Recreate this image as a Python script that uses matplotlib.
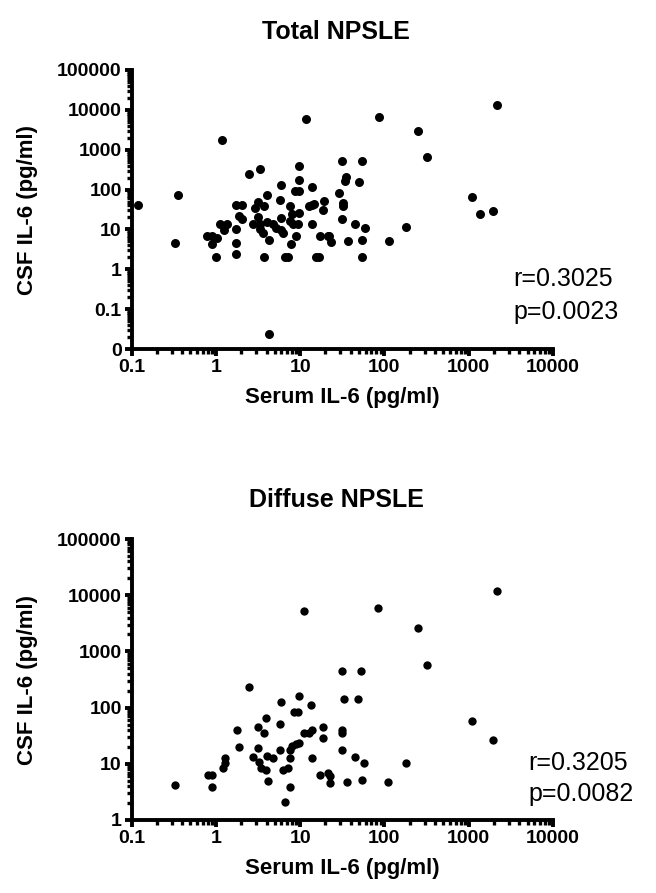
import matplotlib
matplotlib.use("Agg")
import matplotlib.pyplot as plt
from matplotlib.ticker import LogLocator, FixedLocator, FixedFormatter, NullFormatter

plt.rcParams["font.family"] = ["Liberation Sans", "DejaVu Sans"]

# Total NPSLE: serum vs CSF IL-6 (pg/ml)
total_serum = [0.12, 0.33, 0.36, 0.79, 0.90, 0.90, 1.0, 1.02, 1.11, 1.2, 1.25, 1.35,
               1.72, 1.72, 1.72, 1.75, 2.07, 1.9, 2.07, 2.48, 3.38, 2.9, 3.16, 2.76,
               3.16, 3.3, 3.38, 3.6, 3.7, 3.7, 4.04, 4.1, 4.3, 4.3, 4.8, 5.2, 6.0,
               5.7, 6.0, 6.0, 6.3, 6.7, 7.1, 7.5, 7.5, 7.7, 8.1, 8.2, 9.0, 8.6, 9.7,
               9.7, 9.7, 9.7, 9.5, 11.6, 12.7, 13.7, 14, 14, 14.5, 15.5, 16.7, 17,
               18.6, 19, 21.3, 23.4, 22, 29.3, 31.5, 32, 32, 31.5, 34.5, 35, 37, 45,
               49.7, 53.6, 54, 54, 59.6, 112, 87, 248, 320, 2190, 1100, 1370, 1950, 178]
total_csf = [40, 4.5, 72, 6.8, 6.8, 4.2, 2.07, 6, 14, 1780, 9.6, 14,
             10.4, 4.6, 2.4, 42, 42, 21.5, 18.5, 251, 329, 35, 48, 14,
             20.7, 14, 10, 8.3, 38, 2.07, 71, 15.3, 5.4, 0.024, 14, 11, 133,
             56, 19.5, 9.6, 8.3, 2.07, 2.07, 38, 16, 4.2, 23.7, 14, 6.8, 91, 91,
             383, 171, 26, 14, 5850, 38, 117, 42, 13.5, 44, 2.07, 2.07, 6.9,
             31.6, 52, 6.9, 4.7, 6.8, 83, 510, 46, 38, 18.8, 161, 207, 5.1, 14,
             152, 510, 5.4, 2.07, 10.7, 5.1, 6600, 2880, 645, 13300, 65, 25, 29, 11.2]

# Diffuse NPSLE
diffuse_serum = [0.33, 0.81, 0.91, 0.9, 1.22, 1.27, 1.3, 1.79, 1.87, 2.48, 2.77, 3.14,
                 3.2, 3.23, 3.4, 3.7, 3.9, 3.9, 4.1, 4.2, 4.74, 5.7, 5.8, 5.95, 6.3,
                 6.7, 7.2, 7.5, 7.5, 7.6, 8.0, 8.4, 8.9, 9.4, 9.6, 9.6, 11, 11.2,
                 12.6, 13.4, 13.7, 14, 17, 18.7, 18.7, 21.2, 22.8, 22.8, 31.5, 31.5,
                 31.5, 31.5, 33.2, 36, 44.9, 48.5, 53, 53.6, 56.9, 85, 111,
                 248, 320, 2190, 1100, 1950, 178]
diffuse_csf = [4.2, 6.3, 6.3, 3.8, 8.3, 10.2, 12.5, 40, 20, 237, 13, 18.8,
               44.6, 10.9, 8.3, 35.8, 7.7, 66, 13.9, 4.9, 12.5, 52, 17.6, 128, 7.7,
               2.1, 8.3, 17.6, 3.8, 12.5, 20.7, 85, 22.5, 85, 23.5, 161, 34.8, 5340,
               34.8, 111, 12.5, 40, 6.3, 44.6, 28.4, 7, 6, 4.5, 450, 40,
               35.8, 17.6, 141, 4.8, 13, 141, 450, 5.1, 10.4, 5900, 4.8,
               2590, 574, 12000, 58, 26, 10.4]

x_ticks = [0.1, 1, 10, 100, 1000, 10000]
x_ticklabels = ["0.1", "1", "10", "100", "1000", "10000"]
top_yticks = [0.01, 0.1, 1, 10, 100, 1000, 10000, 100000]
top_yticklabels = ["0", "0.1", "1", "10", "100", "1000", "10000", "100000"]
bot_yticks = [1, 10, 100, 1000, 10000, 100000]
bot_yticklabels = ["1", "10", "100", "1000", "10000", "100000"]

W, H = 656, 893
fig = plt.figure(figsize=(W / 100, H / 100), dpi=100)


def style_axis(ax, yticks, yticklabels, ylim):
    ax.set_xscale("log")
    ax.set_yscale("log")
    ax.set_xlim(0.1, 10000)
    ax.set_ylim(*ylim)
    ax.xaxis.set_major_locator(FixedLocator(x_ticks))
    ax.xaxis.set_major_formatter(FixedFormatter(x_ticklabels))
    ax.yaxis.set_major_locator(FixedLocator(yticks))
    ax.yaxis.set_major_formatter(FixedFormatter(yticklabels))
    ax.xaxis.set_minor_locator(LogLocator(base=10, subs=range(2, 10), numticks=20))
    ax.yaxis.set_minor_locator(LogLocator(base=10, subs=range(2, 10), numticks=20))
    ax.xaxis.set_minor_formatter(NullFormatter())
    ax.yaxis.set_minor_formatter(NullFormatter())
    for s in ["top", "right"]:
        ax.spines[s].set_visible(False)
    for s in ["left", "bottom"]:
        ax.spines[s].set_linewidth(2.8)
    ax.tick_params(which="major", length=5, width=2.8, labelsize=14, pad=2)
    ax.tick_params(which="minor", length=3.5, width=2.4)
    for lab in ax.get_xticklabels() + ax.get_yticklabels():
        lab.set_fontweight("bold")
    ax.set_xlabel("Serum IL-6 (pg/ml)", fontsize=16, fontweight="bold", labelpad=8)


left = 131.5 / W
width = (553 - 131.5) / W

ax1 = fig.add_axes([left, 1 - 349 / H, width, (349 - 70) / H])
ax1.scatter(total_serum, total_csf, s=42, color="black", linewidths=0,
            zorder=3, clip_on=False)
style_axis(ax1, top_yticks, top_yticklabels, (0.01, 100000))

ax2 = fig.add_axes([left, 1 - 820 / H, width, (820 - 539) / H])
ax2.scatter(diffuse_serum, diffuse_csf, s=36, color="black", linewidths=0,
            zorder=3, clip_on=False)
style_axis(ax2, bot_yticks, bot_yticklabels, (1, 100000))

fig.text(336 / W, 1 - 32 / H, "Total NPSLE", ha="center", va="center",
         fontsize=18, fontweight="bold")
fig.text(336 / W, 1 - 500 / H, "Diffuse NPSLE", ha="center", va="center",
         fontsize=18, fontweight="bold")

fig.text(28 / W, 1 - 210 / H, "CSF IL-6 (pg/ml)", rotation=90, ha="center",
         va="center", fontsize=16, fontweight="bold")
fig.text(28 / W, 1 - 680 / H, "CSF IL-6 (pg/ml)", rotation=90, ha="center",
         va="center", fontsize=16, fontweight="bold")

fig.text(513 / W, 1 - 279 / H, "r=0.3025", ha="left", va="center", fontsize=18)
fig.text(513 / W, 1 - 312 / H, "p=0.0023", ha="left", va="center", fontsize=18)
fig.text(528 / W, 1 - 763 / H, "r=0.3205", ha="left", va="center", fontsize=18)
fig.text(528 / W, 1 - 794 / H, "p=0.0082", ha="left", va="center", fontsize=18)

fig.savefig("out.png", dpi=100)
